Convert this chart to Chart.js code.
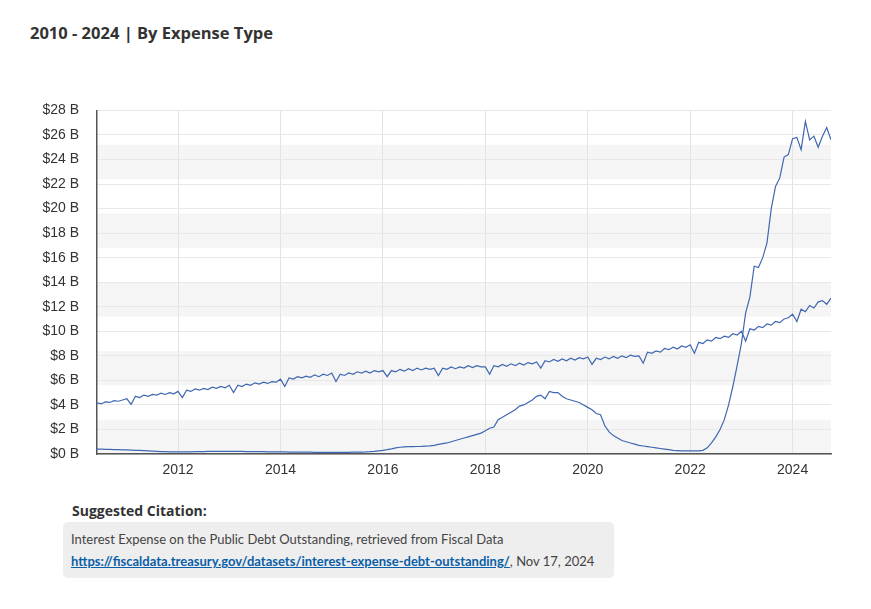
<!DOCTYPE html>
<html lang="en">
<head>
<meta charset="UTF-8" />
<title>Interest Expense</title>
<script src="https://cdn.jsdelivr.net/npm/chart.js"></script>
<style>
  body { margin: 0; background: #fff; font-family: 'Open Sans', sans-serif; color: #333; }
  h2 { position: absolute; left: 30px; top: 21px; margin: 0; font-size: 16.5px; font-weight: 700; }
  #wrap { position: absolute; left: 20px; top: 84px; width: 820px; height: 400px; }
  .cite-h { position: absolute; left: 72px; top: 501px; font-size: 14px; font-weight: 700; }
  .cite { position: absolute; left: 63px; top: 522px; width: 535px; padding: 6px 8px; background: #eee;
          border-radius: 5px; font-family: Lato, sans-serif; font-size: 13px; line-height: 22px; color: #444; white-space: nowrap; }
  .cite a { color: #0a5fa8; font-weight: 700; }
</style>
</head>
<body>
<h2>2010 - 2024 | By Expense Type</h2>
<div id="wrap"><canvas id="c"></canvas></div>
<div class="cite-h">Suggested Citation:</div>
<div class="cite">Interest Expense on the Public Debt Outstanding, retrieved from Fiscal Data<br>
<a href="#">https://fiscaldata.treasury.gov/datasets/interest-expense-debt-outstanding/</a>, Nov 17, 2024</div>
<script>
  // monthly values in billions, Jun 2010 - Oct 2024
  const startYear = 2010 + 5 / 12;
  const steadySeries = [
    4.15,4.1,4.25,4.2,4.35,4.3,4.4,
    4.5,4.05,4.7,4.6,4.8,4.7,4.85,4.8,4.95,4.85,5.0,4.9,
    5.1,4.6,5.2,5.1,5.3,5.2,5.35,5.25,5.45,5.35,5.5,5.4,
    5.6,5.0,5.6,5.5,5.7,5.6,5.8,5.7,5.85,5.75,5.9,5.85,
    6.1,5.5,6.2,6.1,6.3,6.2,6.35,6.25,6.45,6.3,6.5,6.4,
    6.6,5.9,6.5,6.4,6.6,6.5,6.7,6.6,6.75,6.6,6.8,6.7,
    6.8,6.3,6.8,6.7,6.9,6.75,6.95,6.8,7.0,6.85,7.0,6.9,
    7.0,6.4,7.0,6.9,7.1,6.95,7.1,7.0,7.2,7.05,7.2,7.1,
    7.1,6.5,7.2,7.1,7.3,7.15,7.35,7.2,7.4,7.25,7.45,7.35,
    7.5,7.0,7.6,7.5,7.7,7.55,7.75,7.6,7.8,7.65,7.85,7.75,
    7.9,7.3,7.8,7.7,7.9,7.75,7.95,7.8,8.0,7.85,8.05,7.95,
    8.0,7.4,8.3,8.2,8.4,8.3,8.6,8.5,8.7,8.55,8.8,8.7,
    8.9,8.2,9.1,9.0,9.3,9.2,9.5,9.4,9.6,9.5,9.8,9.7,
    10.0,9.2,10.2,10.1,10.4,10.3,10.6,10.5,10.8,10.7,11.0,11.1,
    11.4,10.8,11.8,11.6,12.1,11.9,12.4,12.5,12.2,12.7
  ];
  const rateSeries = [
    0.4,0.4,0.38,0.37,0.36,0.35,0.34,
    0.33,0.32,0.3,0.3,0.28,0.26,0.24,0.22,0.2,0.19,0.18,0.18,
    0.17,0.17,0.18,0.18,0.19,0.2,0.2,0.21,0.21,0.22,0.22,0.22,
    0.22,0.22,0.22,0.21,0.2,0.2,0.2,0.19,0.19,0.18,0.18,0.18,
    0.17,0.17,0.16,0.16,0.16,0.15,0.15,0.15,0.14,0.14,0.14,0.14,
    0.14,0.14,0.14,0.14,0.14,0.15,0.15,0.16,0.17,0.19,0.22,0.26,
    0.3,0.35,0.42,0.5,0.55,0.58,0.6,0.6,0.61,0.62,0.64,0.66,
    0.7,0.78,0.85,0.9,1.0,1.1,1.2,1.3,1.4,1.5,1.6,1.7,
    1.9,2.1,2.2,2.8,3.0,3.2,3.4,3.6,3.9,4.0,4.2,4.4,
    4.7,4.8,4.5,5.1,5.0,5.0,4.7,4.5,4.4,4.3,4.2,4.0,
    3.8,3.6,3.3,3.2,2.3,1.8,1.5,1.3,1.1,1.0,0.9,0.8,
    0.7,0.65,0.6,0.55,0.5,0.45,0.4,0.35,0.3,0.28,0.26,0.25,
    0.25,0.25,0.25,0.3,0.5,0.9,1.4,2.0,2.8,4.0,5.5,7.2,
    9.0,11.5,12.8,15.3,15.2,16.0,17.2,20.0,21.8,22.5,24.2,24.4,
    25.7,25.8,24.8,27.1,25.6,25.9,25.0,25.9,26.6,25.6
  ];
  const bandStarts = [0, 5.6, 11.2, 16.8, 22.4];
  const bandSize = 2.8;

  const toPoints = arr => arr.map((v, i) => ({ x: startYear + i / 12, y: v }));

  const bands = {
    id: 'bands',
    beforeDraw(chart) {
      const { ctx, chartArea: a, scales: { y } } = chart;
      ctx.save();
      ctx.fillStyle = '#f5f5f5';
      bandStarts.forEach(b => {
        const top = y.getPixelForValue(b + bandSize), bot = y.getPixelForValue(b);
        ctx.fillRect(a.left, top, a.right - a.left, bot - top);
      });
      ctx.restore();
    }
  };

  const line = { borderColor: '#3f67b1', borderWidth: 1.2, pointRadius: 0, fill: false, tension: 0 };

  new Chart(document.getElementById('c'), {
    type: 'line',
    data: {
      datasets: [
        Object.assign({ label: 'Marketable', data: toPoints(steadySeries) }, line),
        Object.assign({ label: 'Non-marketable', data: toPoints(rateSeries) }, line)
      ]
    },
    options: {
      responsive: true, maintainAspectRatio: false, animation: false,
      layout: { padding: { top: 4, right: 9 } },
      plugins: { legend: { display: false }, tooltip: { enabled: false } },
      scales: {
        x: {
          type: 'linear', min: startYear, max: startYear + 172 / 12,
          afterBuildTicks: s => { s.ticks = [2012, 2014, 2016, 2018, 2020, 2022, 2024].map(v => ({ value: v })); },
          afterFit: s => { s.height = 30; },
          ticks: { color: '#333', padding: 8, font: { family: 'Liberation Sans', size: 14 }, callback: v => String(v) },
          grid: { color: '#e3e3e3', drawTicks: false },
          border: { color: '#555', width: 1.5 }
        },
        y: {
          min: 0, max: 28,
          afterFit: s => { s.width = 77; },
          ticks: { stepSize: 2, color: '#333', padding: 18, font: { family: 'Liberation Sans', size: 14 }, callback: v => '$' + v + ' B' },
          grid: { color: '#e8e8e8', drawTicks: false },
          border: { color: '#555', width: 1.5 }
        }
      }
    },
    plugins: [bands]
  });
</script>
</body>
</html>
